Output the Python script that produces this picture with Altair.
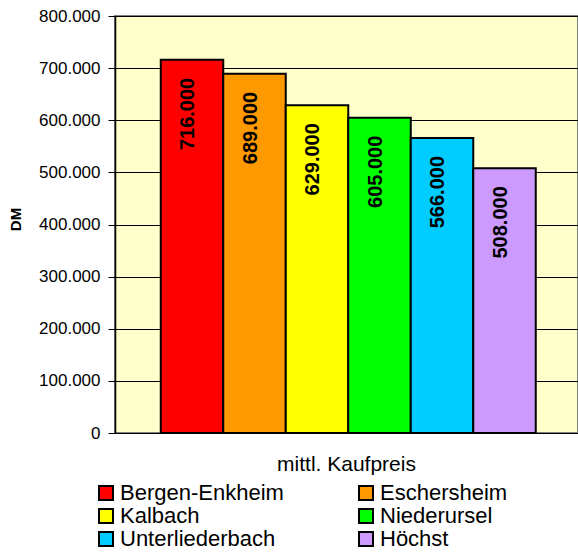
import altair as alt
import pandas as pd

# Mean purchase price per district (DM)
districts = ["Bergen-Enkheim", "Eschersheim", "Kalbach", "Niederursel", "Unterliederbach", "Höchst"]
prices = [716000, 689000, 629000, 605000, 566000, 508000]
colors = ["#FF0000", "#FF9900", "#FFFF00", "#00FF00", "#00CCFF", "#CC99FF"]
category = "mittl. Kaufpreis"
y_ticks = [0, 100000, 200000, 300000, 400000, 500000, 600000, 700000, 800000]

df = pd.DataFrame({"Kategorie": [category] * len(districts), "Stadtteil": districts, "Preis": prices})

FONT = "Liberation Sans"
de_number = "replace(format({v}, ','), regexp(',', 'g'), '.')"

x = alt.X("Kategorie:N", title=None,
          scale=alt.Scale(paddingInner=0, paddingOuter=0),
          axis=alt.Axis(labelAngle=0, labelFontSize=21, labelFont=FONT, labelColor="#000000",
                        labelPadding=20, ticks=False, domain=False))
x_off = alt.XOffset("Stadtteil:N", sort=districts,
                    scale=alt.Scale(domain=districts, paddingInner=0, paddingOuter=0.704, align=0.52))
y = alt.Y("Preis:Q", title="DM",
          scale=alt.Scale(domain=[0, 800000], nice=False),
          axis=alt.Axis(values=y_ticks, labelExpr=de_number.format(v="datum.value"),
                        labelFontSize=17, labelFont=FONT, labelColor="#000000", labelPadding=8,
                        tickSize=7, tickColor="#000000", tickWidth=1,
                        domainColor="#000000", domainWidth=1.5,
                        grid=True, gridColor="#000000", gridWidth=1,
                        titleFont=FONT, titleFontSize=15, titleFontWeight="bold", titleColor="#000000",
                        titleAngle=270, titleAlign="center", titleBaseline="middle",
                        titleX=-100, titleY=203))

bars = alt.Chart(df).mark_bar(stroke="#000000", strokeWidth=2).encode(
    x=x, xOffset=x_off, y=y,
    color=alt.Color("Stadtteil:N", sort=districts,
                    scale=alt.Scale(domain=districts, range=colors),
                    legend=alt.Legend(title=None, orient="none", legendX=-20, legendY=466,
                                      direction="horizontal",
                                      columns=2, columnPadding=71, rowPadding=1, padding=0,
                                      symbolType="square", symbolSize=196,
                                      symbolStrokeColor="#000000", symbolStrokeWidth=2,
                                      symbolOpacity=1, labelOffset=3,
                                      labelFont=FONT, labelFontSize=22, labelColor="#000000",
                                      labelLimit=300)),
)

labels = alt.Chart(df).transform_calculate(
    label=de_number.format(v="datum.Preis")
).mark_text(angle=270, align="right", baseline="middle", dx=-18, dy=-4,
            font=FONT, fontSize=20, fontWeight="bold", color="#000000").encode(
    x=x, xOffset=x_off, y=y, text="label:N"
)

chart = alt.layer(bars, labels).properties(
    width=463, height=417,
    autosize=alt.AutoSizeParams(type="none"),
    padding={"left": 115, "top": 16, "right": 0, "bottom": 119},
    background="#FFFFFF",
).configure_view(fill="#FFFFCC", stroke="#808080", strokeWidth=2)

chart.save("out.html", embed_options={"renderer": "svg", "actions": False})
